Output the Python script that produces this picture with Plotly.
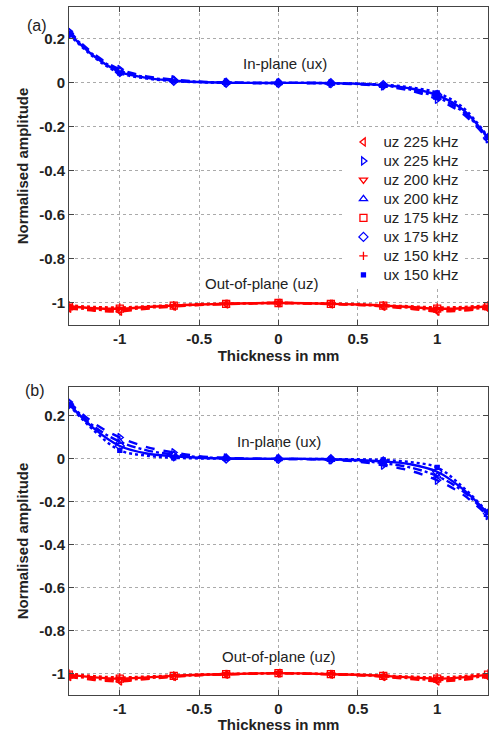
import plotly.graph_objects as go

# Thickness positions (mm)
thickness = [-1.32, -1.16, -1.0, -0.83, -0.66, -0.5, -0.33, -0.17, 0.0,
             0.17, 0.33, 0.5, 0.66, 0.83, 1.0, 1.16, 1.32]

freqs = ["225", "200", "175", "150"]

# Panel (a)
a_ux_150 = [0.22, 0.115, 0.045, 0.02, 0.008, 0.003, 0.001, 0.0, 0.0, 0.0, -0.001, -0.003, -0.008, -0.02, -0.045, -0.11, -0.245]
a_ux_175 = [0.225, 0.12, 0.05, 0.023, 0.01, 0.004, 0.001, 0.0, 0.0, 0.0, -0.001, -0.004, -0.01, -0.025, -0.055, -0.12, -0.25]
a_ux_200 = [0.23, 0.125, 0.055, 0.026, 0.012, 0.005, 0.002, 0.0, 0.0, 0.0, -0.002, -0.005, -0.012, -0.03, -0.065, -0.13, -0.25]
a_ux_225 = [0.235, 0.13, 0.062, 0.03, 0.015, 0.006, 0.002, 0.0, 0.0, 0.0, -0.002, -0.006, -0.015, -0.035, -0.075, -0.14, -0.255]

a_uz_150 = [-1.01, -1.018, -1.02, -1.015, -1.01, -1.005, -1.003, -1.001, -1.0, -1.001, -1.003, -1.005, -1.01, -1.015, -1.02, -1.018, -1.01]
a_uz_175 = [-1.015, -1.024, -1.026, -1.018, -1.012, -1.007, -1.004, -1.001, -1.0, -1.001, -1.004, -1.007, -1.012, -1.018, -1.026, -1.024, -1.015]
a_uz_200 = [-1.02, -1.03, -1.032, -1.022, -1.014, -1.008, -1.004, -1.001, -1.0, -1.001, -1.004, -1.008, -1.014, -1.022, -1.032, -1.03, -1.02]
a_uz_225 = [-1.025, -1.035, -1.038, -1.026, -1.016, -1.009, -1.005, -1.002, -1.0, -1.002, -1.005, -1.009, -1.016, -1.026, -1.038, -1.035, -1.025]

# Panel (b)
b_ux_150 = [0.25, 0.13, 0.04, 0.015, 0.005, 0.002, 0.001, 0.0, 0.0, 0.0, -0.001, -0.002, -0.005, -0.015, -0.04, -0.13, -0.25]
b_ux_175 = [0.255, 0.14, 0.06, 0.025, 0.012, 0.005, 0.002, 0.0, 0.0, 0.0, -0.002, -0.005, -0.012, -0.025, -0.06, -0.14, -0.255]
b_ux_200 = [0.26, 0.15, 0.08, 0.04, 0.02, 0.009, 0.003, 0.001, 0.0, -0.001, -0.003, -0.009, -0.02, -0.04, -0.08, -0.15, -0.26]
b_ux_225 = [0.265, 0.165, 0.1, 0.055, 0.03, 0.013, 0.005, 0.001, 0.0, -0.001, -0.005, -0.013, -0.03, -0.055, -0.1, -0.165, -0.265]

b_uz_150 = [-1.0, -1.012, -1.018, -1.014, -1.009, -1.005, -1.002, -1.0, -0.998, -1.0, -1.002, -1.005, -1.009, -1.014, -1.018, -1.012, -1.0]
b_uz_175 = [-1.005, -1.018, -1.024, -1.018, -1.011, -1.006, -1.003, -1.0, -0.998, -1.0, -1.003, -1.006, -1.011, -1.018, -1.024, -1.018, -1.005]
b_uz_200 = [-1.01, -1.024, -1.03, -1.022, -1.013, -1.007, -1.003, -1.001, -0.998, -1.001, -1.003, -1.007, -1.013, -1.022, -1.03, -1.024, -1.01]
b_uz_225 = [-1.015, -1.03, -1.036, -1.026, -1.015, -1.008, -1.004, -1.001, -0.998, -1.001, -1.004, -1.008, -1.015, -1.026, -1.036, -1.03, -1.015]

panel_a = {"ux": {"225": a_ux_225, "200": a_ux_200, "175": a_ux_175, "150": a_ux_150},
           "uz": {"225": a_uz_225, "200": a_uz_200, "175": a_uz_175, "150": a_uz_150}}
panel_b = {"ux": {"225": b_ux_225, "200": b_ux_200, "175": b_ux_175, "150": b_ux_150},
           "uz": {"225": b_uz_225, "200": b_uz_200, "175": b_uz_175, "150": b_uz_150}}

RED = "#FF0000"
BLUE = "#0000FF"
symbols = {
    ("uz", "225"): "triangle-left-open", ("ux", "225"): "triangle-right-open",
    ("uz", "200"): "triangle-down-open", ("ux", "200"): "triangle-up-open",
    ("uz", "175"): "square-open", ("ux", "175"): "diamond-open",
    ("uz", "150"): "cross-thin-open", ("ux", "150"): "square",
}
msize = {"150": 6, "175": 7, "200": 7, "225": 7}
dashes = {"225": "dash", "200": "dashdot", "175": "solid", "150": "dot"}

fig = go.Figure()

def add_panel(data, xa, ya, legend):
    for f in freqs:
        for comp in ["uz", "ux"]:
            color = RED if comp == "uz" else BLUE
            y = data[comp][f]
            fig.add_trace(go.Scatter(
                x=thickness, y=y, mode="lines", xaxis=xa, yaxis=ya,
                line=dict(color=color, width=2.4, dash=dashes[f], shape="spline"),
                showlegend=False, hoverinfo="skip"))
            fig.add_trace(go.Scatter(
                x=thickness[::2], y=y[::2], mode="markers", xaxis=xa, yaxis=ya,
                name=f'<span style="font-size:15px">{comp} {f} kHz</span>',
                marker=dict(color=color, symbol=symbols[(comp, f)],
                            size=msize[f] if (comp, f) != ("ux", "150") else 4,
                            line=dict(color=color, width=1.3)),
                showlegend=legend))

add_panel(panel_a, "x", "y", True)
add_panel(panel_b, "x2", "y2", False)

tickfont = dict(family="Liberation Sans, Arial", size=15, color="#222222")
titlefont = dict(family="Liberation Sans, Arial", size=15, color="#222222")

def xaxis(anchor):
    return dict(range=[-1.32, 1.32], tickvals=[-1, -0.5, 0, 0.5, 1],
                ticktext=["<b>-1</b>", "<b>-0.5</b>", "<b>0</b>", "<b>0.5</b>", "<b>1</b>"],
                showgrid=True, gridcolor="#aaaaaa", griddash="dot", gridwidth=1,
                showline=True, linecolor="#444444", linewidth=1, mirror="ticks",
                ticks="inside", ticklen=5, tickcolor="#444444",
                zeroline=False, tickfont=tickfont, anchor=anchor,
                title=dict(text="<b>Thickness in mm</b>", font=titlefont, standoff=4))

def yaxis(anchor, domain, rng):
    vals = [0.2, 0, -0.2, -0.4, -0.6, -0.8, -1]
    return dict(range=rng, tickvals=vals,
                ticktext=[f"<b>{v:g}</b>" for v in vals],
                showgrid=True, gridcolor="#aaaaaa", griddash="dot", gridwidth=1,
                showline=True, linecolor="#444444", linewidth=1, mirror="ticks",
                ticks="inside", ticklen=5, tickcolor="#444444",
                zeroline=False, tickfont=tickfont, anchor=anchor, domain=domain,
                title=dict(text="<b>Normalised amplitude</b>", font=titlefont, standoff=6))

fig.update_layout(
    width=489, height=733,
    margin=dict(l=69, r=1, t=7, b=38),
    paper_bgcolor="white", plot_bgcolor="white",
    xaxis=xaxis("y"), yaxis=yaxis("x", [0.5378, 1.0], [-1.1, 0.345]),
    xaxis2=xaxis("y2"), yaxis2=yaxis("x2", [0.0, 0.4477], [-1.1, 0.335]),
    legend=dict(x=0.655, y=0.825, xanchor="left", yanchor="top",
                bgcolor="white", borderwidth=0, tracegroupgap=0,
                itemwidth=30,
                font=dict(family="Liberation Sans, Arial", size=12, color="#222222")),
    font=dict(family="Liberation Sans, Arial"),
)

annfont = dict(family="Liberation Sans, Arial", size=15, color="#222222")
fig.add_annotation(x=0.04, y=0.09, xref="x", yref="y", text="In-plane (ux)",
                   showarrow=False, font=annfont)
fig.add_annotation(x=-0.11, y=-0.91, xref="x", yref="y", text="Out-of-plane (uz)",
                   showarrow=False, font=annfont)
fig.add_annotation(x=0.0, y=0.08, xref="x2", yref="y2", text="In-plane (ux)",
                   showarrow=False, font=annfont)
fig.add_annotation(x=0.0, y=-0.92, xref="x2", yref="y2", text="Out-of-plane (uz)",
                   showarrow=False, font=annfont)

labfont = dict(family="Liberation Sans, Arial", size=16, color="#222222")
fig.add_annotation(x=-(69 - 25) / 419, y=(695 - 15) / 688, xref="paper", yref="paper",
                   text="(a)", showarrow=False, font=labfont)
fig.add_annotation(x=-(69 - 23) / 419, y=(695 - 390) / 688, xref="paper", yref="paper",
                   text="(b)", showarrow=False, font=labfont)

fig.write_html("out.html", config={"displayModeBar": False},
               post_script="document.body.style.margin='0';document.body.style.overflow='hidden';")
